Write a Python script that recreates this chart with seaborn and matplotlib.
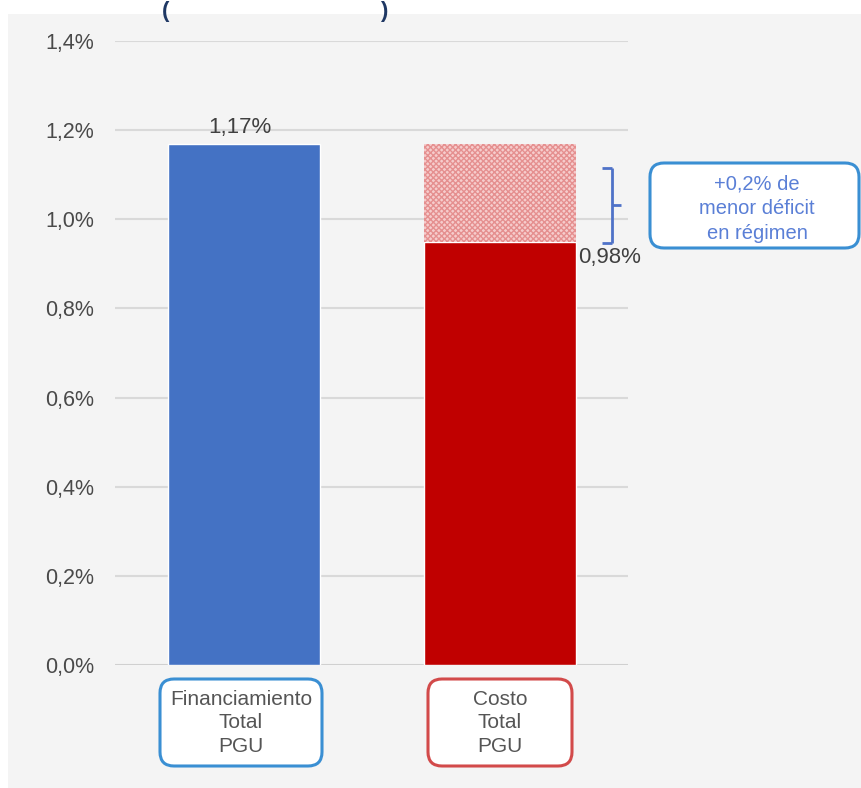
import matplotlib
matplotlib.use("Agg")
import matplotlib.pyplot as plt
from matplotlib.patches import FancyBboxPatch, Rectangle
import seaborn as sns
import pandas as pd

# ---- data ----
categories = ["Financiamiento\nTotal\nPGU", "Costo\nTotal\nPGU"]
bar_values = [1.17, 0.95]          # visual bar heights (%)
regimen_value = 1.17               # hatched top for "Costo" bar (%)
value_labels = ["1,17%", "0,98%"]
yticks = [0.0, 0.2, 0.4, 0.6, 0.8, 1.0, 1.2, 1.4]
ytick_labels = ["0,0%", "0,2%", "0,4%", "0,6%", "0,8%", "1,0%", "1,2%", "1,4%"]
note_text = "+0,2% de\nmenor déficit\nen régimen"

bar_colors = ["#4472c4", "#c00000"]
box_colors = ["#3a8fd3", "#d24a4a"]

sns.set_theme(style="white")
plt.rcParams["font.family"] = ["Liberation Sans", "DejaVu Sans"]

W, H = 861, 788
fig = plt.figure(figsize=(W / 100, H / 100), dpi=100)
fig.patch.set_facecolor("#f4f4f4")
# white strips at top/left (cropped-screenshot look)
fig.add_artist(Rectangle((0, 1 - 14 / H), 1, 14 / H, transform=fig.transFigure,
                         facecolor="white", edgecolor="none", zorder=0))
fig.add_artist(Rectangle((0, 0), 8 / W, 1, transform=fig.transFigure,
                         facecolor="white", edgecolor="none", zorder=0))

ax = fig.add_axes([115 / W, 123 / H, 513 / W, 624 / H])
ax.set_facecolor("none")

df = pd.DataFrame({"cat": categories, "val": bar_values})
sns.barplot(data=df, x="cat", y="val", hue="cat", palette=bar_colors,
            legend=False, width=0.595, saturation=1, ax=ax, zorder=3)

# hatched "régimen" part on top of the cost bar
ax.bar([1], [regimen_value - bar_values[1]], bottom=[bar_values[1]], width=0.595,
       facecolor="#f6cccc", edgecolor="#e58f8f", hatch="xxxxxx", linewidth=0, zorder=3)

ax.set_xlim(-0.504, 1.5)
ax.set_ylim(0, 1.4)
ax.set_yticks(yticks)
ax.set_yticklabels(ytick_labels, color="#4a4a4a", fontsize=15.5)
ax.tick_params(axis="y", length=0, pad=15)
ax.set_xticks([])
ax.set_xlabel("")
ax.set_ylabel("")
for s in ax.spines.values():
    s.set_visible(False)
ax.grid(axis="y", color="#d9d9d9", linewidth=1.5, zorder=0)
ax.set_axisbelow(True)
ax.axhline(0, color="#d0d0d0", linewidth=2, zorder=2)

# value labels
ax.text(0 - 0.015, bar_values[0] + 0.012, value_labels[0], ha="center", va="bottom",
        fontsize=16, color="#404040")
ax.text(1 + 0.305, bar_values[1] - 0.012, value_labels[1], ha="left", va="top",
        fontsize=16, color="#404040")

# bracket
bx = 1 + 112 / 256
ytop, ybot = 1.115, 0.947
kw = dict(color="#4f72c8", linewidth=2, clip_on=False, solid_capstyle="butt")
ax.plot([bx, bx], [ybot, ytop], **kw)
ax.plot([bx - 0.04, bx], [ytop, ytop], **kw)
ax.plot([bx - 0.04, bx], [ybot, ybot], **kw)
ax.plot([bx, bx + 0.035], [(ytop + ybot) / 2] * 2, **kw)

def px_box(x0, y0, x1, y1, color, r=14):
    # pixel coordinates measured from top-left
    fig.add_artist(FancyBboxPatch(
        (x0 / W, 1 - y1 / H), (x1 - x0) / W, (y1 - y0) / H,
        boxstyle=f"round,pad=0,rounding_size={r / W}", mutation_aspect=W / H,
        transform=fig.transFigure, facecolor="white", edgecolor=color,
        linewidth=2.2, zorder=5))

# note box
px_box(650, 163, 859, 248, "#3a8fd3")
fig.text(757 / W, 1 - 209 / H, note_text, ha="center", va="center",
         fontsize=14.5, color="#5a7fd6", linespacing=1.38, zorder=6)

# category label boxes
box_px = [(160, 322), (428, 572)]
for (x0, x1), col, lab in zip(box_px, box_colors, categories):
    px_box(x0, 679, x1, 766, col)
    fig.text((x0 + x1) / 2 / W, 1 - 723 / H, lab, ha="center", va="center",
             fontsize=15, color="#555555", linespacing=1.3, zorder=6)

# cropped title parentheses at very top
fig.text(166 / W, 1 - 0.5 / H, "(", ha="center", va="top", fontsize=16,
         color="#1f3864", fontweight="bold")
fig.text(384 / W, 1 - 0.5 / H, ")", ha="center", va="top", fontsize=16,
         color="#1f3864", fontweight="bold")

fig.savefig("out.png", dpi=100, facecolor=fig.get_facecolor())
